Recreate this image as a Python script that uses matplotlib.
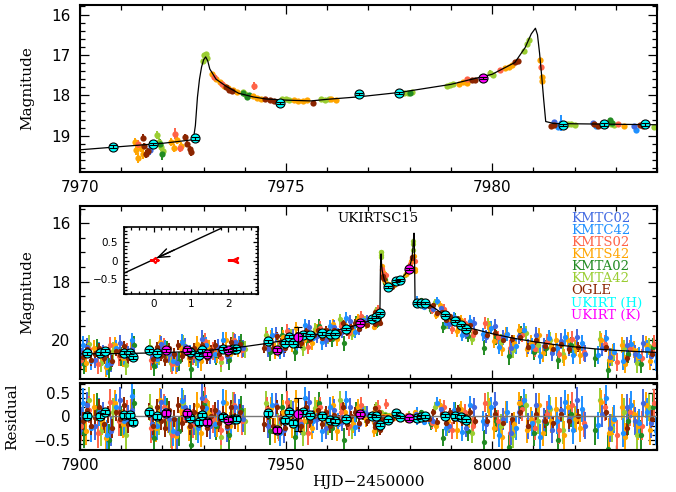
import numpy as np
import matplotlib
matplotlib.use("Agg")
import matplotlib.pyplot as plt
from matplotlib.ticker import MultipleLocator

# ---------------- best-fit model light curve (HJD-2450000, I mag) ----------------
model_t = [7900, 7910, 7920, 7930, 7940, 7945, 7950, 7955, 7960, 7965,
           7968, 7970, 7971, 7972, 7972.75, 7972.8, 7972.85, 7972.9, 7972.95, 7973.0,
           7973.05, 7973.1, 7973.15, 7973.3, 7973.55, 7973.85, 7974.2, 7974.5, 7975.0, 7975.6,
           7976.0, 7976.75, 7977.75, 7979.0, 7980.0, 7980.55, 7980.8, 7980.95, 7981.05, 7981.1,
           7981.15, 7981.2, 7981.25, 7981.3, 7981.5, 7984, 7986, 7988, 7990, 7992,
           7995, 8000, 8005, 8010, 8015, 8020, 8025, 8030, 8035, 8040]
model_mag = [20.47, 20.46, 20.43, 20.37, 20.22, 20.12, 20.00, 19.88, 19.74, 19.57,
             19.45, 19.35, 19.27, 19.19, 19.10, 18.75, 18.05, 17.60, 17.30, 17.12,
             17.05, 17.15, 17.35, 17.60, 17.78, 17.95, 18.04, 18.09, 18.12, 18.14,
             18.10, 18.04, 17.93, 17.73, 17.48, 17.19, 16.82, 16.48, 16.34, 16.50,
             16.95, 17.50, 18.10, 18.65, 18.70, 18.73, 18.90, 19.10, 19.30, 19.45,
             19.60, 19.78, 19.93, 20.05, 20.15, 20.23, 20.30, 20.35, 20.39, 20.42]

# ---------------- KMTNet CTIO, BLG02 ----------------
kmtc02_t = [7900.55, 7901.60, 7903.55, 7905.60, 7907.55, 7909.60, 7911.55, 7912.60,
            7917.55, 7919.60, 7921.55, 7923.60, 7925.55, 7927.60, 7929.55, 7931.60, 7933.55, 7935.60, 7937.55, 7939.60,
            7945.55, 7947.60, 7949.55, 7951.60, 7953.55, 7955.60, 7957.55, 7959.60, 7961.55, 7963.60, 7965.55, 7967.60, 7969.55,
            7971.69, 7981.51, 7982.44, 7983.44,
            7985.55, 7987.60, 7989.55, 7991.60, 7993.55, 7995.60,
            7998.55, 8000.60, 8002.55, 8004.60, 8006.55, 8008.60, 8010.55, 8012.60, 8014.55, 8016.60, 8018.55, 8020.60, 8022.55,
            8026.60, 8028.55, 8032.60, 8034.55, 8036.60, 8038.55]
kmtc02_mag = [20.57, 20.22, 20.67, 20.42, 20.77, 20.11, 20.51, 20.31,
              20.59, 20.13, 20.48, 20.77, 20.20, 20.49, 19.97, 20.55, 20.22, 20.53, 20.06, 20.28,
              20.31, 19.81, 20.31, 19.87, 20.07, 19.56, 19.86, 20.00, 19.54, 19.73, 19.35, 19.62, 19.32,
              19.36, 18.65, 18.68, 18.76,
              18.95, 18.91, 19.45, 19.37, 19.78, 19.42,
              19.88, 19.50, 19.91, 20.27, 19.87, 20.22, 19.81, 20.20, 20.44, 20.03, 20.26, 19.89, 20.46,
              20.26, 20.58, 20.17, 20.48, 20.10, 20.56]
kmtc02_err = [0.30, 0.28, 0.30, 0.26, 0.32, 0.28, 0.30, 0.27,
              0.30, 0.28, 0.30, 0.33, 0.27, 0.29, 0.30, 0.28, 0.26, 0.30, 0.28, 0.29,
              0.27, 0.25, 0.27, 0.24, 0.25, 0.24, 0.23, 0.24, 0.22, 0.21, 0.20, 0.19, 0.17,
              0.12, 0.05, 0.05, 0.06,
              0.12, 0.14, 0.16, 0.17, 0.19, 0.20,
              0.22, 0.23, 0.24, 0.26, 0.25, 0.27, 0.26, 0.28, 0.28, 0.27, 0.29, 0.28, 0.30,
              0.29, 0.30, 0.29, 0.30, 0.29, 0.31]

# ---------------- KMTNet CTIO, BLG42 ----------------
kmtc42_t = [7900.70, 7902.65, 7904.70, 7906.65, 7908.70, 7910.65, 7912.70,
            7918.65, 7920.70, 7922.65, 7924.70, 7926.65, 7928.70, 7930.65, 7932.70, 7934.65, 7936.70, 7938.65,
            7946.70, 7948.65, 7950.70, 7952.65, 7954.70, 7956.65, 7958.70, 7960.65, 7962.70, 7964.65, 7966.70, 7968.65,
            7971.72, 7981.59, 7981.67, 7982.52, 7983.48,
            7984.70, 7986.65, 7988.70, 7990.65, 7992.70, 7994.65,
            7997.70, 7999.65, 8001.70, 8003.65, 8005.70, 8007.65, 8009.70, 8011.65, 8013.70, 8015.65, 8017.70, 8019.65, 8021.70,
            8025.65, 8027.70, 8029.65, 8031.70, 8033.65, 8035.70, 8037.65, 8039.70]
kmtc42_mag = [20.17, 20.72, 20.36, 20.86, 20.26, 20.56, 20.01,
              20.63, 20.28, 20.72, 20.06, 20.45, 20.63, 20.17, 20.49, 19.99, 20.37, 20.14,
              19.84, 20.38, 19.83, 20.14, 19.49, 19.94, 20.08, 19.52, 19.80, 19.23, 19.72, 19.32,
              19.25, 18.78, 18.69, 18.75, 18.85,
              18.84, 18.67, 19.42, 19.20, 19.82, 19.33,
              19.80, 19.57, 20.23, 19.79, 20.20, 19.64, 20.19, 20.53, 19.92, 20.26, 19.89, 20.52, 20.10,
              20.50, 19.92, 20.40, 20.71, 20.13, 20.54, 20.30, 20.72]
kmtc42_err = [0.31, 0.29, 0.30, 0.33, 0.28, 0.30, 0.27,
              0.31, 0.29, 0.32, 0.27, 0.30, 0.31, 0.28, 0.29, 0.27, 0.29, 0.27,
              0.26, 0.28, 0.25, 0.26, 0.23, 0.24, 0.25, 0.22, 0.22, 0.20, 0.20, 0.18,
              0.10, 0.06, 0.20, 0.05, 0.06,
              0.11, 0.13, 0.16, 0.16, 0.20, 0.19,
              0.22, 0.22, 0.26, 0.24, 0.26, 0.24, 0.27, 0.29, 0.26, 0.28, 0.27, 0.30, 0.28,
              0.30, 0.28, 0.30, 0.32, 0.29, 0.31, 0.30, 0.32]

# ---------------- KMTNet SAAO, BLG02 ----------------
kmts02_t = [7900.35, 7902.30, 7904.35, 7907.30, 7909.35, 7911.30,
            7917.35, 7920.30, 7922.35, 7925.30, 7927.35, 7930.30, 7932.35, 7934.30, 7937.35, 7939.30,
            7945.35, 7948.30, 7950.35, 7953.30, 7955.35, 7958.30, 7960.35, 7963.30, 7965.35, 7968.30,
            7971.42, 7972.30, 7972.42, 7973.25, 7973.45, 7974.23, 7979.40, 7980.18, 7981.18, 7983.05,
            7985.35, 7988.30, 7990.35, 7993.30, 7995.35, 7998.30, 8001.35, 8004.30, 8007.35, 8010.30,
            8013.35, 8016.30, 8019.35, 8022.30, 8027.35, 8030.30, 8033.35, 8036.30, 8039.35]
kmts02_mag = [20.67, 20.32, 20.82, 20.16, 20.56, 20.41,
              20.69, 20.23, 20.82, 20.30, 20.54, 20.02, 20.38, 20.60, 20.01, 20.33,
              19.96, 20.29, 19.69, 20.02, 20.22, 19.59, 19.78, 19.53, 19.76, 19.19,
              19.20, 18.95, 19.30, 17.55, 17.72, 17.78, 17.60, 17.38, 17.30, 18.72,
              18.98, 18.93, 19.62, 19.42, 19.81, 19.42, 19.91, 20.26, 19.83, 20.30,
              20.06, 20.47, 19.97, 20.41, 20.12, 20.75, 20.28, 20.60, 20.12]
kmts02_err = [0.32, 0.29, 0.33, 0.28, 0.31, 0.30,
              0.32, 0.29, 0.33, 0.29, 0.31, 0.28, 0.30, 0.31, 0.27, 0.29,
              0.27, 0.28, 0.25, 0.26, 0.26, 0.23, 0.23, 0.21, 0.21, 0.18,
              0.10, 0.14, 0.10, 0.03, 0.03, 0.10, 0.05, 0.06, 0.04, 0.06,
              0.13, 0.15, 0.18, 0.18, 0.20, 0.21, 0.23, 0.26, 0.25, 0.27,
              0.27, 0.30, 0.28, 0.30, 0.29, 0.32, 0.30, 0.31, 0.30]

# ---------------- KMTNet SAAO, BLG42 ----------------
kmts42_t = [7901.40, 7903.35, 7905.40, 7906.35, 7908.40, 7910.35, 7912.40,
            7918.40, 7919.35, 7921.40, 7923.35, 7924.40, 7926.35, 7928.40, 7929.35, 7931.40, 7933.35, 7935.40, 7936.35, 7938.40,
            7946.35, 7947.40, 7949.35, 7951.40, 7952.35, 7954.40, 7956.35, 7957.40, 7959.35, 7961.40, 7962.35, 7964.40,
            7966.35, 7967.40, 7969.35,
            7971.33, 7971.37, 7971.42, 7971.47, 7971.52, 7972.20, 7972.27, 7972.35, 7972.45,
            7973.20, 7973.30, 7973.40, 7973.50, 7973.60, 7973.72, 7973.82, 7974.20, 7974.30, 7974.40,
            7975.20, 7975.30, 7975.40, 7975.50, 7976.10, 7976.20, 7979.20, 7979.30, 7979.38,
            7980.32, 7980.40, 7980.48, 7981.16, 7981.20, 7981.22, 7983.20,
            7986.35, 7987.40, 7989.35, 7991.40, 7992.35, 7994.40,
            7999.35, 8000.40, 8002.35, 8003.40, 8005.35, 8006.40, 8008.35, 8009.40, 8011.35, 8012.40,
            8014.35, 8015.40, 8017.35, 8018.40, 8020.35, 8021.40,
            8026.35, 8028.40, 8029.35, 8031.40, 8032.35, 8034.40, 8035.35, 8037.40, 8038.35]
kmts42_mag = [20.77, 20.27, 20.57, 20.92, 20.17, 20.61, 20.36,
              20.68, 20.08, 20.48, 20.83, 20.28, 20.61, 20.13, 20.72, 20.30, 20.47, 19.99, 20.47, 20.29,
              19.90, 20.37, 19.91, 20.17, 19.59, 20.00, 20.09, 19.67, 19.81, 19.45, 19.97, 19.49,
              19.68, 19.27, 19.44,
              19.15, 19.35, 19.55, 19.30, 19.45, 19.15, 19.30, 19.10, 19.25,
              17.47, 17.60, 17.68, 17.76, 17.82, 17.88, 17.93, 18.03, 18.06, 18.08,
              18.12, 18.13, 18.14, 18.12, 18.10, 18.11, 17.72, 17.68, 17.70,
              17.33, 17.30, 17.26, 17.12, 17.55, 17.65, 18.75,
              19.14, 18.79, 19.33, 19.70, 19.31, 19.62,
              19.56, 20.04, 20.30, 19.78, 20.09, 19.67, 20.31, 20.09, 19.82, 20.45,
              20.23, 20.00, 20.59, 20.00, 20.28, 20.50,
              20.01, 20.68, 20.44, 20.16, 20.82, 20.33, 20.59, 20.15, 20.71]
kmts42_err = [0.31, 0.28, 0.30, 0.34, 0.27, 0.31, 0.29,
              0.31, 0.27, 0.30, 0.33, 0.28, 0.31, 0.27, 0.32, 0.29, 0.30, 0.27, 0.30, 0.28,
              0.24, 0.27, 0.24, 0.25, 0.22, 0.24, 0.24, 0.21, 0.22, 0.19, 0.22, 0.19,
              0.19, 0.17, 0.17,
              0.10, 0.12, 0.12, 0.10, 0.12, 0.10, 0.10, 0.10, 0.10,
              0.02, 0.02, 0.02, 0.02, 0.02, 0.02, 0.03, 0.03, 0.03, 0.03,
              0.03, 0.03, 0.03, 0.03, 0.03, 0.03, 0.03, 0.03, 0.03,
              0.03, 0.03, 0.03, 0.04, 0.04, 0.04, 0.05,
              0.13, 0.13, 0.16, 0.19, 0.17, 0.20,
              0.21, 0.24, 0.26, 0.23, 0.25, 0.23, 0.27, 0.26, 0.25, 0.29,
              0.27, 0.26, 0.30, 0.27, 0.28, 0.30,
              0.27, 0.31, 0.30, 0.28, 0.32, 0.29, 0.31, 0.28, 0.32]

# ---------------- KMTNet SSO, BLG02 ----------------
kmta02_t = [7901.05, 7904.05, 7907.05, 7910.05, 7913.05, 7918.05, 7921.05, 7924.05, 7927.05, 7930.05,
            7933.05, 7936.05, 7939.05, 7946.05, 7949.05, 7952.05, 7955.05, 7958.05, 7961.05, 7964.05, 7967.05,
            7971.95, 7972.00, 7973.95, 7974.05, 7974.10, 7978.00, 7982.85, 7982.92,
            7985.05, 7988.05, 7991.05, 7994.05, 7998.05, 8001.05, 8004.05, 8007.05, 8010.05,
            8013.05, 8016.05, 8019.05, 8025.05, 8028.05, 8033.05, 8036.05, 8039.05]
kmta02_mag = [20.82, 20.27, 20.97, 20.56, 20.16, 20.89, 20.32, 20.72, 20.99, 20.12,
              20.52, 20.68, 20.09, 20.40, 19.82, 20.40, 19.98, 19.50, 19.96, 20.11, 19.39,
              19.20, 19.45, 17.95, 18.05, 18.00, 17.95, 18.62, 18.68,
              18.98, 19.56, 19.24, 19.86, 20.26, 19.91, 20.55, 19.78, 20.40,
              20.26, 20.67, 20.16, 20.60, 21.03, 20.48, 20.80, 20.22]
kmta02_err = [0.33, 0.30, 0.35, 0.32, 0.30, 0.34, 0.30, 0.33, 0.36, 0.29,
              0.32, 0.33, 0.29, 0.30, 0.27, 0.30, 0.27, 0.24, 0.26, 0.26, 0.21,
              0.12, 0.15, 0.03, 0.03, 0.03, 0.03, 0.05, 0.05,
              0.14, 0.18, 0.17, 0.22, 0.26, 0.24, 0.29, 0.25, 0.29,
              0.28, 0.31, 0.28, 0.31, 0.34, 0.30, 0.32, 0.30]

# ---------------- KMTNet SSO, BLG42 ----------------
kmta42_t = [7900.10, 7902.10, 7905.10, 7908.10, 7911.10, 7917.10, 7919.10, 7922.10, 7925.10, 7928.10,
            7931.10, 7934.10, 7937.10, 7940.10, 7945.10, 7948.10, 7951.10, 7954.10, 7957.10, 7960.10,
            7963.10, 7966.10, 7969.10,
            7971.88, 7971.92, 7971.97, 7972.02, 7972.99, 7973.02, 7973.05, 7973.08, 7973.95, 7974.00,
            7974.90, 7975.00, 7975.08, 7975.85, 7975.95, 7976.05, 7977.85, 7977.95, 7978.05,
            7978.90, 7978.98, 7979.06, 7979.95, 7980.02, 7980.78, 7980.85, 7980.90,
            7981.84, 7981.92, 7982.00, 7982.88, 7982.96, 7983.92,
            7986.10, 7989.10, 7992.10, 7995.10, 7999.10, 8002.10, 8005.10, 8008.10, 8011.10,
            8014.10, 8017.10, 8020.10, 8026.10, 8029.10, 8032.10, 8035.10, 8038.10]
kmta42_mag = [20.62, 20.12, 20.77, 20.36, 20.86, 20.24, 20.53, 20.77, 20.10, 20.58,
              20.30, 20.76, 20.01, 20.32, 19.82, 20.25, 19.88, 20.26, 19.63, 19.89,
              19.29, 19.78, 19.35,
              18.98, 19.15, 19.28, 19.38, 17.15, 17.00, 16.98, 17.08, 17.92, 17.98,
              18.08, 18.10, 18.12, 18.10, 18.12, 18.09, 17.94, 17.95, 17.92,
              17.78, 17.75, 17.72, 17.45, 17.50, 16.90, 16.72, 16.62,
              18.72, 18.70, 18.73, 18.70, 18.73, 18.78,
              18.71, 19.46, 19.36, 19.95, 19.45, 20.05, 20.33, 19.76, 20.17,
              19.98, 20.48, 20.28, 19.96, 20.59, 20.27, 20.79, 20.21]
kmta42_err = [0.32, 0.29, 0.33, 0.30, 0.34, 0.29, 0.31, 0.32, 0.28, 0.31,
              0.29, 0.33, 0.28, 0.29, 0.26, 0.28, 0.25, 0.27, 0.23, 0.24,
              0.20, 0.22, 0.18,
              0.10, 0.10, 0.10, 0.12, 0.03, 0.03, 0.03, 0.03, 0.03, 0.03,
              0.03, 0.03, 0.03, 0.03, 0.03, 0.03, 0.03, 0.03, 0.03,
              0.05, 0.05, 0.04, 0.08, 0.05, 0.04, 0.04, 0.04,
              0.04, 0.04, 0.04, 0.04, 0.04, 0.05,
              0.12, 0.17, 0.18, 0.22, 0.22, 0.25, 0.28, 0.24, 0.27,
              0.26, 0.29, 0.28, 0.27, 0.31, 0.29, 0.32, 0.29]

# ---------------- OGLE ----------------
ogle_t = [7900.70, 7901.75, 7902.70, 7903.75, 7904.70, 7905.75, 7906.70, 7907.75, 7908.70, 7909.75,
          7910.70, 7911.75, 7912.70,
          7916.75, 7917.70, 7918.75, 7919.70, 7920.75, 7921.70, 7922.75, 7923.70, 7924.75, 7925.70,
          7926.75, 7927.70, 7928.75, 7929.70, 7930.75, 7931.70, 7932.75, 7933.70, 7934.75, 7935.70,
          7936.75, 7937.70, 7938.75,
          7944.75, 7945.70, 7946.75, 7947.70, 7948.75, 7949.70, 7950.75, 7951.70, 7952.75, 7953.70,
          7954.75, 7955.70, 7956.75, 7957.70, 7958.75, 7959.70, 7960.75, 7961.70, 7962.75, 7963.70,
          7964.75, 7965.70, 7966.75, 7967.70, 7968.75, 7969.70,
          7971.52, 7971.56, 7971.60, 7971.65, 7972.55, 7972.60, 7972.66, 7972.70, 7973.54, 7973.62,
          7973.70, 7974.50, 7974.60, 7974.70, 7975.65, 7979.50, 7979.58, 7980.55, 7980.62, 7981.43,
          7981.50, 7982.48, 7982.56, 7983.58, 7983.65,
          7984.70, 7985.75, 7986.70, 7987.75, 7988.70, 7989.75, 7990.70, 7991.75, 7992.70, 7993.75,
          7994.70, 7995.75,
          7998.70, 8000.75, 8002.70, 8004.75, 8006.70, 8008.75, 8010.70, 8012.75, 8014.70, 8016.75,
          8018.70, 8020.75, 8027.70, 8032.75, 8038.70]
ogle_mag = [20.57, 20.32, 20.67, 20.47, 20.27, 20.62, 20.42, 20.72, 20.37, 20.51,
            20.21, 20.61, 20.46,
            20.34, 20.64, 20.23, 20.53, 20.67, 20.27, 20.46, 20.16, 20.55, 20.35,
            20.59, 20.28, 20.48, 20.17, 20.61, 20.34, 20.18, 20.46, 20.25, 20.48,
            20.07, 20.35, 20.14,
            20.28, 20.01, 20.28, 19.86, 20.08, 20.26, 19.83, 20.06, 19.88, 20.11,
            19.69, 19.96, 19.83, 19.66, 19.93, 19.65, 19.92, 19.64, 19.75, 19.42,
            19.73, 19.54, 19.40, 19.61, 19.37, 19.47,
            19.05, 19.25, 19.45, 19.38, 19.03, 19.20, 19.33, 19.40, 17.79, 17.86,
            17.90, 18.10, 18.12, 18.13, 18.19, 17.63, 17.61, 17.18, 17.14, 18.76,
            18.74, 18.72, 18.76, 18.74, 18.77,
            18.84, 18.79, 19.08, 19.03, 19.32, 19.18, 19.41, 19.28, 19.58, 19.53,
            19.48, 19.73,
            19.83, 19.75, 20.01, 19.97, 19.88, 20.23, 20.01, 20.21, 20.29, 20.13,
            20.31, 20.24, 20.23, 20.62, 20.46]
ogle_err = [0.19, 0.18, 0.20, 0.19, 0.18, 0.20, 0.19, 0.21, 0.18, 0.19,
            0.18, 0.20, 0.19,
            0.18, 0.20, 0.18, 0.19, 0.20, 0.18, 0.19, 0.17, 0.19, 0.18,
            0.19, 0.18, 0.19, 0.17, 0.19, 0.18, 0.17, 0.18, 0.17, 0.18,
            0.16, 0.17, 0.16,
            0.17, 0.16, 0.17, 0.15, 0.16, 0.17, 0.15, 0.16, 0.15, 0.16,
            0.14, 0.15, 0.14, 0.14, 0.15, 0.13, 0.14, 0.13, 0.13, 0.12,
            0.13, 0.12, 0.11, 0.12, 0.11, 0.11,
            0.08, 0.08, 0.10, 0.08, 0.08, 0.08, 0.08, 0.10, 0.03, 0.03,
            0.03, 0.03, 0.03, 0.03, 0.04, 0.03, 0.03, 0.03, 0.03, 0.04,
            0.04, 0.04, 0.04, 0.04, 0.04,
            0.07, 0.07, 0.08, 0.08, 0.09, 0.09, 0.10, 0.10, 0.11, 0.11,
            0.11, 0.12,
            0.12, 0.12, 0.13, 0.13, 0.13, 0.14, 0.14, 0.15, 0.15, 0.15,
            0.16, 0.16, 0.17, 0.18, 0.18]

# ---------------- UKIRT H and K ----------------
ukirt_h_t = [7901.8, 7904.8, 7906.1, 7910.7, 7912.1, 7912.9, 7916.7, 7918.8, 7926.7, 7928.8,
             7929.7, 7934.7, 7937.2, 7937.8, 7945.6, 7949.7, 7950.7, 7951.7, 7954.1, 7955.7,
             7958.6, 7960.6, 7961.8, 7964.6, 7970.8, 7971.77, 7972.78, 7974.85, 7976.76, 7977.75,
             7981.73, 7982.72, 7983.71, 7988.5, 7990.9, 7992.5, 7993.7]
ukirt_h_mag = [20.45, 20.45, 20.37, 20.43, 20.43, 20.58, 20.35, 20.43, 20.42, 20.50,
               20.34, 20.30, 20.31, 20.30, 20.04, 20.09, 19.89, 20.09, 19.81, 19.82,
               19.77, 19.79, 19.78, 19.63, 19.27, 19.20, 19.07, 18.19, 17.97, 17.94,
               18.73, 18.72, 18.72, 19.13, 19.35, 19.48, 19.62]
ukirt_h_err = [0.05, 0.05, 0.05, 0.05, 0.05, 0.05, 0.05, 0.05, 0.05, 0.05,
               0.05, 0.05, 0.05, 0.05, 0.05, 0.05, 0.05, 0.05, 0.04, 0.04,
               0.04, 0.04, 0.04, 0.04, 0.03, 0.03, 0.03, 0.03, 0.03, 0.03,
               0.03, 0.03, 0.03, 0.04, 0.04, 0.04, 0.04]
ukirt_k_t = [7920.8, 7925.85, 7930.86, 7935.95, 7947.7, 7952.8, 7967.9, 7979.78]
ukirt_k_mag = [20.35, 20.33, 20.48, 20.35, 20.35, 19.89, 19.40, 17.57]
ukirt_k_err = [0.06, 0.06, 0.06, 0.06, 0.07, 0.35, 0.05, 0.03]

# ---------------- inset: caustics and source trajectory ----------------
central_x = [-0.07, 0.00, 0.05, 0.08, 0.14, 0.08, 0.05, 0.00, -0.07]
central_y = [0.00, 0.015, 0.07, 0.02, 0.00, -0.02, -0.07, -0.015, 0.00]
planet_x = [2.02, 2.15, 2.27, 2.23, 2.27, 2.15, 2.02]
planet_y = [0.00, 0.015, 0.07, 0.00, -0.07, -0.015, 0.00]
traj_x = [-0.8, 1.8]
traj_y = [-0.34, 0.86]

survey_names = ["KMTC02", "KMTC42", "KMTS02", "KMTS42", "KMTA02", "KMTA42", "OGLE", "UKIRT (H)", "UKIRT (K)"]
survey_colors = ["#4169E1", "#1E90FF", "#FF6347", "#FFA500", "#228B22", "#9ACD32", "#8B2500", "#00FFFF", "#FF00FF"]

# drawing order: back to front
ground_sets = [
    (kmta42_t, kmta42_mag, kmta42_err, survey_colors[5]),
    (kmta02_t, kmta02_mag, kmta02_err, survey_colors[4]),
    (kmts42_t, kmts42_mag, kmts42_err, survey_colors[3]),
    (kmts02_t, kmts02_mag, kmts02_err, survey_colors[2]),
    (kmtc42_t, kmtc42_mag, kmtc42_err, survey_colors[1]),
    (kmtc02_t, kmtc02_mag, kmtc02_err, survey_colors[0]),
    (ogle_t, ogle_mag, ogle_err, survey_colors[6]),
]
ukirt_sets = [
    (ukirt_h_t, ukirt_h_mag, ukirt_h_err, survey_colors[7]),
    (ukirt_k_t, ukirt_k_mag, ukirt_k_err, survey_colors[8]),
]

plt.rcParams["font.family"] = ["DejaVu Sans"]
SERIF = "DejaVu Serif"

fig = plt.figure(figsize=(6.76, 4.92), dpi=100)
ax_top = fig.add_axes([0.1183, 0.6504, 0.8536, 0.3394])
ax_mid = fig.add_axes([0.1183, 0.2297, 0.8536, 0.3516])
ax_res = fig.add_axes([0.1183, 0.0854, 0.8536, 0.1362])
ax_in = fig.add_axes([0.1834, 0.4024, 0.1982, 0.1362])


def model_at(t):
    return np.interp(np.asarray(t, float), model_t, model_mag)


def draw_points(ax, residual=False, ms=3.8):
    for t, m, e, c in ground_sets:
        t = np.asarray(t, float)
        y = model_at(t) - np.asarray(m) if residual else np.asarray(m)
        ax.errorbar(t, y, yerr=e, fmt="o", ms=ms, color=c, mec=c, mew=0,
                    elinewidth=1.4, capsize=2.2, capthick=1.2, zorder=2)


def draw_ukirt(ax, residual=False):
    for t, m, e, c in ukirt_sets:
        t = np.asarray(t, float)
        y = model_at(t) - np.asarray(m) if residual else np.asarray(m)
        ax.plot(t, y, "o", ms=6.5, mfc=c, mec="black", mew=0.8, zorder=5)
        ax.errorbar(t, y, yerr=e, fmt="none", ecolor="black", elinewidth=0.8,
                    capsize=2.6, capthick=0.8, zorder=6)


def style(ax, xmaj, xmin, ymaj, ymin, lsize=11, maj=6.5, mnr=3.5, pad=6):
    ax.xaxis.set_major_locator(MultipleLocator(xmaj))
    ax.xaxis.set_minor_locator(MultipleLocator(xmin))
    ax.yaxis.set_major_locator(MultipleLocator(ymaj))
    ax.yaxis.set_minor_locator(MultipleLocator(ymin))
    ax.tick_params(which="both", direction="in", top=True, right=True, width=0.9,
                   labelsize=lsize)
    ax.tick_params(which="major", length=maj)
    ax.tick_params(which="minor", length=mnr)
    ax.tick_params(axis="x", pad=pad)
    ax.tick_params(axis="y", pad=pad + 1)
    for s in ax.spines.values():
        s.set_linewidth(1.5)


mt = np.asarray(model_t, float)
mm = np.asarray(model_mag, float)

# --- zoom on the caustic crossings ---
draw_points(ax_top, ms=4.5)
ax_top.plot(mt, mm, color="black", lw=0.9, zorder=4)
draw_ukirt(ax_top)
ax_top.set_xlim(7970, 7984)
ax_top.set_ylim(19.9, 15.765)
style(ax_top, 5, 1, 1, 0.2)
ax_top.set_ylabel("Magnitude", family=SERIF, fontsize=11)
ax_top.yaxis.set_label_coords(-0.0797, 0.5)

# --- whole light curve ---
draw_points(ax_mid)
ax_mid.plot(mt, mm, color="black", lw=0.9, zorder=4)
draw_ukirt(ax_mid)
ax_mid.set_xlim(7900, 8040)
ax_mid.set_ylim(21.33, 15.41)
style(ax_mid, 50, 10, 2, 0.5)
ax_mid.tick_params(labelbottom=False)
ax_mid.set_ylabel("Magnitude", family=SERIF, fontsize=11)
ax_mid.yaxis.set_label_coords(-0.0797, 0.5)
ax_mid.text(0.517, 0.929, "UKIRTSC15", transform=ax_mid.transAxes, family=SERIF,
            fontsize=9.5, ha="center", va="center")
for i, (name, col) in enumerate(zip(survey_names, survey_colors)):
    ax_mid.text(0.851, 0.929 - i * 0.0700, name, transform=ax_mid.transAxes, color=col,
                family=SERIF, fontsize=9.5, ha="left", va="center", zorder=10)

# --- residuals ---
draw_points(ax_res, residual=True)
ax_res.axhline(0, color="#777777", lw=1.0, zorder=4)
draw_ukirt(ax_res, residual=True)
ax_res.set_xlim(7900, 8040)
ax_res.set_ylim(-0.72, 0.72)
style(ax_res, 50, 10, 0.5, 0.1)
ax_res.set_yticks([-0.5, 0, 0.5])
ax_res.set_yticklabels(["\u22120.5", "0", "0.5"])
ax_res.set_ylabel("Residual", family=SERIF, fontsize=11)
ax_res.yaxis.set_label_coords(-0.1057, 0.5)
ax_res.set_xlabel("HJD\u22122450000", family=SERIF, fontsize=11)
ax_res.xaxis.set_label_coords(0.5, -0.38)

# --- inset: lens geometry ---
ax_in.plot(traj_x, traj_y, color="black", lw=1.0)
ax_in.annotate("", xy=(0.07, 0.062), xytext=(0.55, 0.284),
               arrowprops=dict(arrowstyle="->,head_length=0.8,head_width=0.3",
                               color="black", lw=1.0, shrinkA=0, shrinkB=0))
ax_in.plot(central_x, central_y, color="red", lw=1.5)
ax_in.plot(planet_x, planet_y, color="red", lw=1.5)
ax_in.set_xlim(-0.8, 2.8)
ax_in.set_ylim(-0.9, 0.9)
style(ax_in, 1, 0.2, 0.5, 0.1, lsize=7.5, maj=3.5, mnr=2.0, pad=3.5)
ax_in.set_yticks([-0.5, 0, 0.5])
ax_in.set_yticklabels(["\u22120.5", "0", "0.5"])
for s in ax_in.spines.values():
    s.set_linewidth(1.2)

fig.savefig("out.png", dpi=100)
